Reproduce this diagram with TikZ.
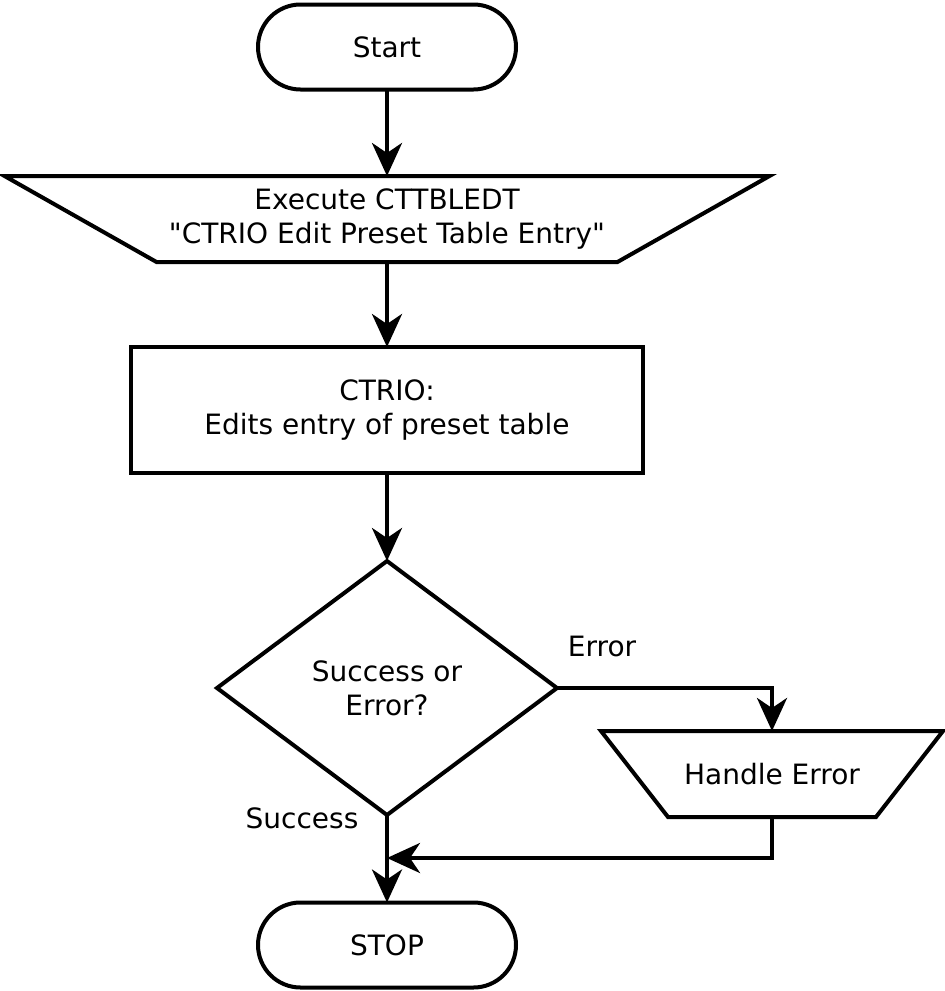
\documentclass[tikz,border=0pt]{standalone}
\usepackage{fontspec}
\newfontfamily\dvsans{DejaVu Sans}
\usetikzlibrary{shapes.geometric,shapes.misc,arrows.meta}
\begin{document}
\begin{tikzpicture}[x=1pt,y=-1pt,
  every node/.style={font=\dvsans\fontsize{28}{34}\selectfont, align=center, inner sep=0pt, outer sep=0pt},
  box/.style={draw, line width=4pt},
  terminal/.style={box, rounded rectangle, minimum width=258pt, minimum height=85pt},
  manual/.style={rectangle},
  proc/.style={box, rectangle, minimum width=512pt, minimum height=126pt},
  decision/.style={box, diamond, minimum width=340pt, minimum height=254pt},
  outline/.style={line width=4pt, line join=miter},
  flow/.style={line width=4pt, -{Stealth[length=33pt,width=30pt,inset=10pt]}},
  lbl/.style={}
]
\useasboundingbox (0,0) rectangle (945,991);

\node[terminal] (start) at (387,47) {Start};
\node[manual, minimum width=765pt, minimum height=86pt] (exec) at (387,219)
      {Execute CTTBLEDT\\"CTRIO Edit Preset Table Entry"};
\node[proc] (ctrio) at (387,410) {CTRIO:\\Edits entry of preset table};
\node[decision] (dec) at (387,688) {Success or\\Error?};
\node[manual, minimum width=342pt, minimum height=86pt] (herr) at (772,774)
      {Handle Error};
\node[terminal] (stop) at (387,945) {STOP};

% manual-operation outlines: wide top edge, slanted sides
\draw[outline] (exec.north west) -- (exec.north east)
  -- ([xshift=-152pt]exec.south east) -- ([xshift=152pt]exec.south west) -- cycle;
\draw[outline] (herr.north west) -- (herr.north east)
  -- ([xshift=-67pt]herr.south east) -- ([xshift=67pt]herr.south west) -- cycle;

\node[lbl] (errlbl) at (602,646) {Error};
\node[lbl] (sucslbl) at (302,818) {Success};

\coordinate (join) at (387,858);

\draw[flow] (start) -- (exec.north);
\draw[flow] (exec.south) -- (ctrio);
\draw[flow] (ctrio) -- (dec);
\draw[flow] (dec.east) -| (herr.north);
\draw[flow] (herr.south) |- (join);
\draw[flow] (dec.south) -- (stop.north);
\end{tikzpicture}
\end{document}
